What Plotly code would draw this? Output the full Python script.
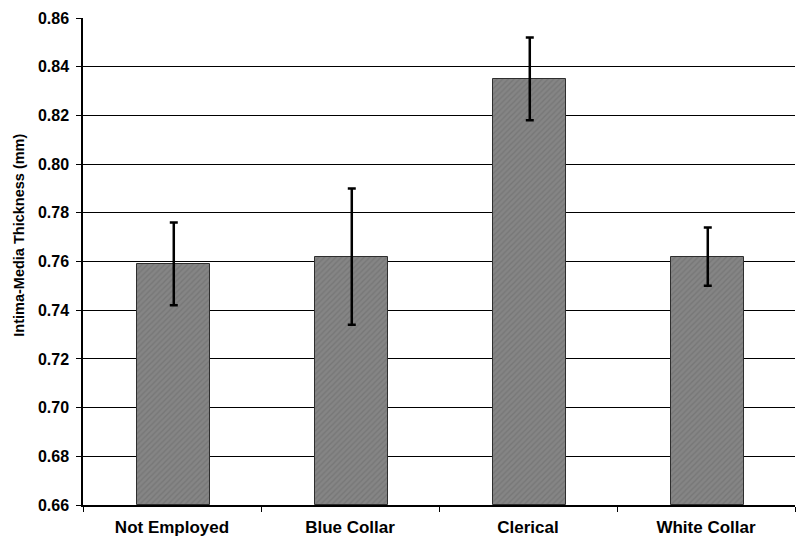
import plotly.graph_objects as go

categories = ["Not Employed", "Blue Collar", "Clerical", "White Collar"]
means = [0.759, 0.762, 0.835, 0.762]
err_upper = [0.776, 0.790, 0.852, 0.774]
err_lower = [0.742, 0.734, 0.818, 0.750]
y_ticks = [0.66, 0.68, 0.70, 0.72, 0.74, 0.76, 0.78, 0.80, 0.82, 0.84, 0.86]

plus = [u - m for u, m in zip(err_upper, means)]
minus = [m - l for m, l in zip(means, err_lower)]

fig = go.Figure(go.Bar(
    x=categories, y=[m - 0.66 for m in means], base=0.66,
    width=0.41, offset=-0.195,
    marker=dict(color="#7c7c7c",
                line=dict(color="#2e2e2e", width=1),
                pattern=dict(shape="/", fgcolor="#6a6a6a", bgcolor="#858585", size=4, solidity=0.35)),
    error_y=dict(type="data", symmetric=False, array=plus, arrayminus=minus,
                 color="black", thickness=2.5, width=4),
))

fig.update_layout(
    width=798, height=539,
    margin=dict(l=83, r=3, t=18, b=34),
    paper_bgcolor="white", plot_bgcolor="white",
    font=dict(family="Liberation Sans, Arial, sans-serif", color="black"),
    showlegend=False,
    bargap=0,
)
fig.update_xaxes(
    automargin=False,
    showline=True, linecolor="black", linewidth=1.5,
    ticks="outside", tickson="boundaries", ticklen=5, tickcolor="black",
    tickfont=dict(size=17, family="Liberation Sans, Arial, sans-serif"),
    tickprefix="<b>", ticksuffix="</b>",
    ticklabelstandoff=6,
)
fig.update_yaxes(
    automargin=False,
    range=[0.66, 0.86], tickvals=y_ticks,
    ticktext=[f"<b>{v:.2f}</b>" for v in y_ticks],
    showgrid=True, gridcolor="black", gridwidth=1.2,
    showline=True, linecolor="black", linewidth=1.5,
    ticks="outside", ticklen=5, tickcolor="black",
    tickfont=dict(size=16),
    ticklabelstandoff=4,
    zeroline=False,
)
fig.add_annotation(
    text="<b>Intima-Media Thickness (mm)</b>", textangle=-90,
    xref="paper", yref="paper", x=-0.0899, y=0.555,
    xanchor="center", yanchor="middle", showarrow=False,
    font=dict(size=14.5),
)

fig.write_html("out.html", config={"displayModeBar": False},
               post_script="document.body.style.margin='0';")
